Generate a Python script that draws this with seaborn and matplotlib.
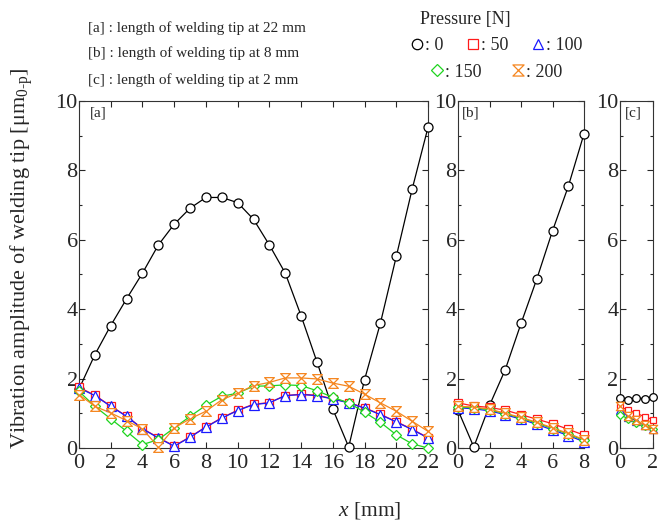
import matplotlib
matplotlib.use("Agg")
import matplotlib.pyplot as plt
from matplotlib.path import Path
from matplotlib.lines import Line2D
from matplotlib.ticker import MultipleLocator
import seaborn as sns

# [a] tip length 22 mm
xa = list(range(0, 23))
a_p0 = [1.70, 2.69, 3.53, 4.30, 5.04, 5.85, 6.45, 6.91, 7.22, 7.22, 7.07, 6.59,
        5.85, 5.04, 3.81, 2.48, 1.12, 0.03, 1.97, 3.60, 5.52, 7.46, 9.24]
a_p50 = [1.75, 1.52, 1.21, 0.92, 0.56, 0.30, 0.06, 0.32, 0.61, 0.87, 1.09, 1.26,
         1.31, 1.51, 1.55, 1.52, 1.42, 1.31, 1.16, 0.97, 0.76, 0.54, 0.30]
a_p100 = [1.73, 1.51, 1.20, 0.91, 0.55, 0.29, 0.05, 0.31, 0.60, 0.86, 1.08, 1.25,
          1.30, 1.51, 1.54, 1.51, 1.41, 1.30, 1.15, 0.96, 0.75, 0.53, 0.29]
a_p150 = [1.63, 1.20, 0.84, 0.48, 0.10, 0.24, 0.58, 0.91, 1.23, 1.49, 1.58, 1.78,
          1.79, 1.82, 1.80, 1.65, 1.46, 1.30, 1.03, 0.74, 0.38, 0.12, 0.00]
a_p200 = [1.54, 1.20, 1.01, 0.79, 0.55, 0.03, 0.58, 0.84, 1.06, 1.39, 1.58, 1.80,
          1.89, 2.02, 2.02, 1.99, 1.87, 1.78, 1.55, 1.30, 1.06, 0.77, 0.48]

# [b] tip length 8 mm
xb = list(range(0, 9))
b_p0 = [1.09, 0.03, 1.23, 2.26, 3.59, 4.87, 6.26, 7.54, 9.06]
b_p50 = [1.30, 1.21, 1.17, 1.09, 0.96, 0.83, 0.70, 0.54, 0.37]
b_p100 = [1.16, 1.13, 1.07, 0.96, 0.83, 0.68, 0.52, 0.36, 0.18]
b_p150 = [1.18, 1.16, 1.10, 0.99, 0.86, 0.72, 0.56, 0.40, 0.22]
b_p200 = [1.20, 1.18, 1.12, 1.00, 0.88, 0.74, 0.58, 0.42, 0.24]

# [c] tip length 2 mm
xc = [0, 0.5, 1, 1.5, 2]
c_p0 = [1.45, 1.38, 1.45, 1.42, 1.48]
c_p50 = [1.18, 1.10, 1.00, 0.90, 0.82]
c_p100 = [1.10, 0.90, 0.78, 0.65, 0.55]
c_p150 = [0.95, 0.85, 0.72, 0.62, 0.55]
c_p200 = [1.20, 0.93, 0.80, 0.66, 0.56]

pressures = ["0", "50", "100", "150", "200"]
colors = ["black", "#ff1a1a", "#1a1aff", "#1fd41f", "#f5861f"]
hourglass = Path([(-1, 1), (1, 1), (-1, -1), (1, -1), (-1, 1)],
                 [Path.MOVETO, Path.LINETO, Path.LINETO, Path.LINETO, Path.CLOSEPOLY])
markers = ["o", "s", "^", "D", hourglass]
msizes = [6.5, 6, 6.5, 5, 7]

sns.set_style("ticks")
plt.rcParams["font.family"] = ["Liberation Serif", "DejaVu Serif"]
plt.rcParams["mathtext.fontset"] = "custom"
plt.rcParams["mathtext.rm"] = "Liberation Serif"
plt.rcParams["mathtext.it"] = "Liberation Serif:italic"

fig = plt.figure(figsize=(6.64, 5.23), dpi=100)
bot, h = 0.1434, 0.6635
ax_a = fig.add_axes([0.119, bot, 0.5256, h])
ax_b = fig.add_axes([0.6898, bot, 0.1898, h])
ax_c = fig.add_axes([0.9337, bot, 0.0497, h])

panels = [
    (ax_a, xa, [a_p0, a_p50, a_p100, a_p150, a_p200], 22, "[a]"),
    (ax_b, xb, [b_p0, b_p50, b_p100, b_p150, b_p200], 8, "[b]"),
    (ax_c, xc, [c_p0, c_p50, c_p100, c_p150, c_p200], 2, "[c]"),
]

for ax, xs, series, xmax, tag in panels:
    small = xmax == 2
    for i, ys in enumerate(series):
        sns.lineplot(x=xs, y=ys, ax=ax, color=colors[i], marker=markers[i],
                     markersize=msizes[i] - (1 if small else 0),
                     markerfacecolor="white",
                     markeredgecolor=colors[i], markeredgewidth=0.9,
                     linewidth=0.9, clip_on=False, zorder=3 + i)
    ax.set_xlim(0, xmax)
    ax.set_ylim(0, 10)
    ax.xaxis.set_major_locator(MultipleLocator(2))
    ax.yaxis.set_major_locator(MultipleLocator(2))
    ax.yaxis.set_minor_locator(MultipleLocator(1))
    ax.tick_params(which="both", direction="in", top=True, right=True,
                   labelsize=16, width=0.8)
    ax.tick_params(axis="y", which="major", length=4, pad=1)
    ax.tick_params(axis="y", which="minor", length=2.5)
    ax.tick_params(axis="x", which="major", length=4, pad=4)
    for s in ax.spines.values():
        s.set_linewidth(0.8)
        s.set_color("#333333")
    ax.text(0.15 if small else 0.03, 0.985, tag, transform=ax.transAxes,
            fontsize=11, va="top", ha="left")

ax_a.set_ylabel("Vibration amplitude of welding tip [μm$_{\\mathrm{0‐p}}$]",
                fontsize=16)
ax_a.yaxis.set_label_coords(-0.126, 0.548)
fig.text(0.557, 0.003, "$x$ [mm]", fontsize=15.5, ha="center", va="bottom")

# description of panels
fig.text(0.133, 0.946, "[a] : length of welding tip at 22 mm", fontsize=11, va="center")
fig.text(0.133, 0.899, "[b] : length of welding tip at 8 mm", fontsize=11, va="center")
fig.text(0.133, 0.847, "[c] : length of welding tip at 2 mm", fontsize=11, va="center")

# pressure legend
fig.text(0.632, 0.962, "Pressure [N]", fontsize=13, va="center")
handles = []
for i, p in enumerate(pressures):
    handles.append(Line2D([], [], color=colors[i], marker=markers[i], linestyle="none",
                          markersize=msizes[i] + 1, markerfacecolor="white",
                          markeredgecolor=colors[i], markeredgewidth=0.9,
                          label=": " + p))
fig.legend(handles=handles[:3], ncol=3, loc="center left",
           bbox_to_anchor=(0.618, 0.913), frameon=False, fontsize=13,
           handlelength=0.7, handletextpad=0.1, columnspacing=1.3,
           borderpad=0, borderaxespad=0)
fig.legend(handles=handles[3:], ncol=2, loc="center left",
           bbox_to_anchor=(0.648, 0.862), frameon=False, fontsize=13,
           handlelength=0.7, handletextpad=0.1, columnspacing=1.7,
           borderpad=0, borderaxespad=0)

fig.savefig("out.png", dpi=100)
